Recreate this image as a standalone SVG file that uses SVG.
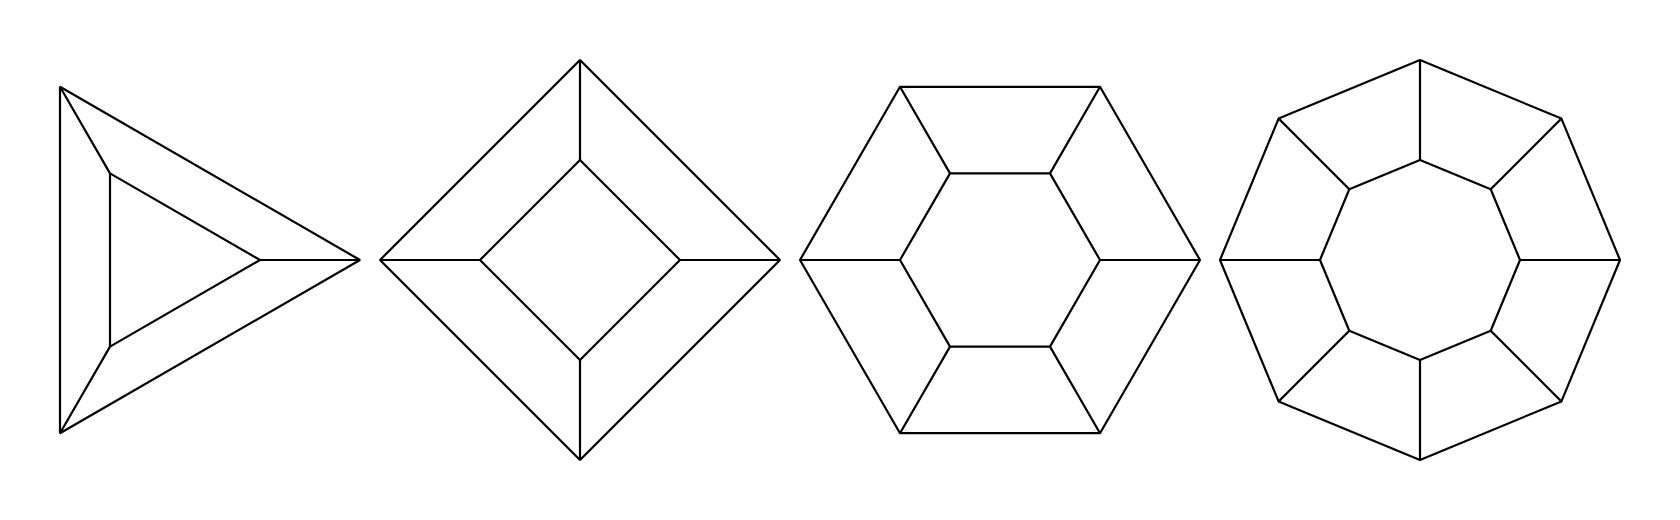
<svg xmlns="http://www.w3.org/2000/svg" width="1680" height="520" viewBox="0 0 1680 520">
<style>
.e{fill:none;stroke:#000;stroke-width:2.2;stroke-linejoin:bevel}
</style>
<rect width="1680" height="520" fill="#fff"/>
<g id="triangle">
<polygon class="e" points="360,260 60,86.795 60,433.205"/>
<polygon class="e" points="260,260 110,173.397 110,346.603"/>
</g>
<g id="square">
<polygon class="e" points="780,260 580,60 380,260 580,460"/>
<polygon class="e" points="680,260 580,160 480,260 580,360"/>
</g>
<g id="hexagon">
<polygon class="e" points="1200,260 1100,86.795 900,86.795 800,260 900,433.205 1100,433.205"/>
<polygon class="e" points="1100,260 1050,173.397 950,173.397 900,260 950,346.603 1050,346.603"/>
</g>
<g id="octagon">
<polygon class="e" points="1620,260 1561.421,118.579 1420,60 1278.579,118.579 1220,260 1278.579,401.421 1420,460 1561.421,401.421"/>
<polygon class="e" points="1520,260 1490.711,189.289 1420,160 1349.289,189.289 1320,260 1349.289,330.711 1420,360 1490.711,330.711"/>
</g>
<g id="connectors" class="e">
<path d="M260,260H360M110,173.397L60,86.795M110,346.603L60,433.205"/>
<path d="M680,260H780M580,160V60M480,260H380M580,360V460"/>
<path d="M1100,260H1200M1050,173.397L1100,86.795M950,173.397L900,86.795M900,260H800M950,346.603L900,433.205M1050,346.603L1100,433.205"/>
<path d="M1520,260H1620M1490.711,189.289L1561.421,118.579M1420,160V60M1349.289,189.289L1278.579,118.579M1320,260H1220M1349.289,330.711L1278.579,401.421M1420,360V460M1490.711,330.711L1561.421,401.421"/>
</g>
</svg>
